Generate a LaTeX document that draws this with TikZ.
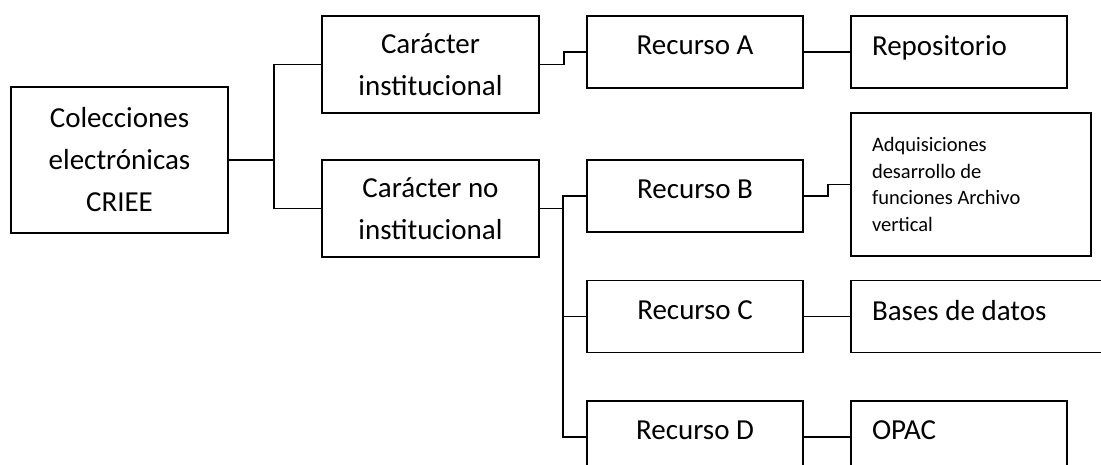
\documentclass[tikz,border=0pt]{standalone}
\usepackage{fontspec}
\setmainfont{Carlito}
\usetikzlibrary{positioning}

\begin{document}
\begin{tikzpicture}[x=1pt,y=-1pt,line width=1.8pt,
		box/.style={draw,rectangle,inner sep=0pt,minimum width=217pt,minimum height=72pt,align=center,font=\fontsize{29}{42}\selectfont},
		onebox/.style={box,minimum width=216pt,text depth=13pt},
		lbox/.style={draw,rectangle,inner ysep=0pt,inner xsep=21pt,minimum height=72pt,text width=174pt,text depth=13pt,align=flush left,font=\fontsize{29}{42}\selectfont}]
		\useasboundingbox (0,0) rectangle (1101,464);
		% first level
		\node[box,minimum height=146pt] (col) at (119.5,160) {Colecciones\\electrónicas\\CRIEE};
		\node[box,minimum height=97pt] (ci) at (430.5,64.5) {Carácter\\institucional};
		\node[box,minimum height=97pt] (cni) at (430.5,208.5) {Carácter no\\institucional};
		% recursos
		\node[onebox] (ra) at (695,52) {Recurso A};
		\node[onebox] (rb) at (695,196) {Recurso B};
		\node[onebox] (rc) at (695,316.5) {Recurso C};
		\node[onebox] (rd) at (695,437) {Recurso D};
		% right column
		\node[lbox] (rep) at (959,52) {Repositorio};
		\node[lbox,text width=198pt,text depth=,minimum height=143pt,font=\fontsize{20.5}{26.7}\selectfont] (adq) at (971,184.5) {Adquisiciones\\desarrollo de\\funciones Archivo\\vertical};
		\node[lbox,text width=218pt] (bd) at (981,316.5) {Bases de datos};
		\node[lbox] (opac) at (959,437) {OPAC};
		% connectors
		\coordinate (j1) at (274,160);
		\draw (col.east)--(j1);
		\draw (ci.west)-|(j1)|-(cni.west);
		\draw (ci.east)--++(24,0)|-(ra.west);
		\draw (cni.east)--++(23,0) coordinate (j2);
		\draw (rb.west)-|(j2)|-(rd.west);
		\draw (j2|-rc.west)--(rc.west);
		\draw (ra.east)--(rep.west);
		\draw (rb.east)--++(24,0)|-(adq.west);
		\draw (rc.east)--(bd.west);
		\draw (rd.east)--(opac.west);
	\end{tikzpicture}
\end{document}
